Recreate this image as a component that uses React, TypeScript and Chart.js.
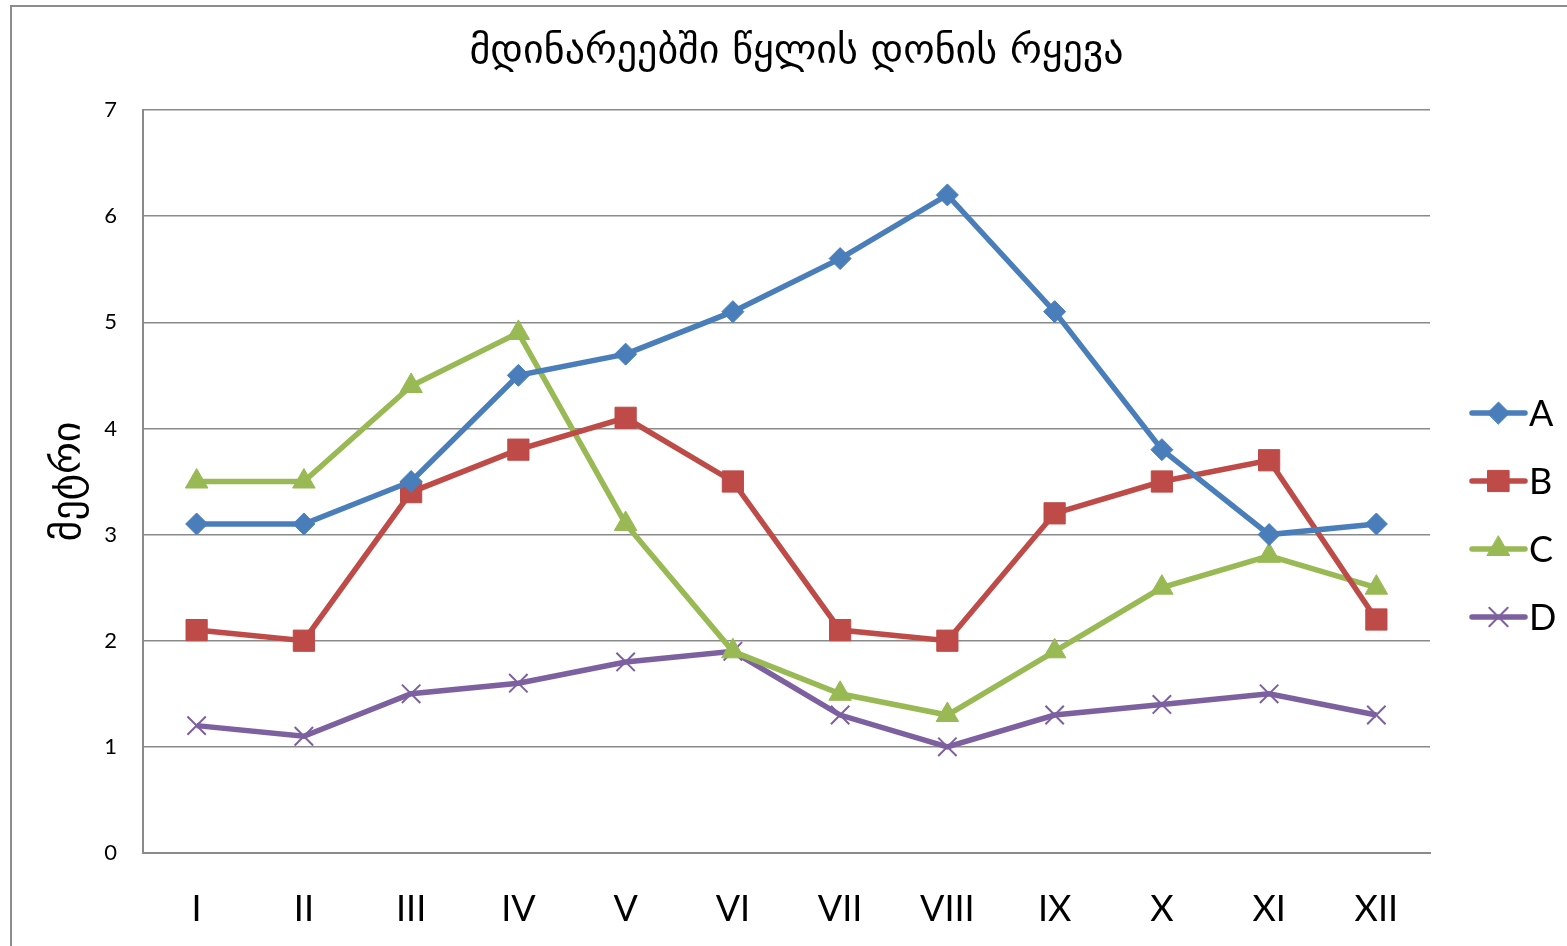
import React, { useEffect, useRef } from "react";
import { Chart, registerables } from "chart.js";
import { drawPoint } from "chart.js/helpers";

Chart.register(...registerables);

const chartTitle = "მდინარეებში წყლის დონის რყევა";
const yAxisTitle = "მეტრი";
const months = ["I", "II", "III", "IV", "V", "VI", "VII", "VIII", "IX", "X", "XI", "XII"];
const seriesNames = ["A", "B", "C", "D"];
const seriesA = [3.1, 3.1, 3.5, 4.5, 4.7, 5.1, 5.6, 6.2, 5.1, 3.8, 3.0, 3.1];
const seriesB = [2.1, 2.0, 3.4, 3.8, 4.1, 3.5, 2.1, 2.0, 3.2, 3.5, 3.7, 2.2];
const seriesC = [3.5, 3.5, 4.4, 4.9, 3.1, 1.9, 1.5, 1.3, 1.9, 2.5, 2.8, 2.5];
const seriesD = [1.2, 1.1, 1.5, 1.6, 1.8, 1.9, 1.3, 1.0, 1.3, 1.4, 1.5, 1.3];
const colors = ["#4A7EBB", "#BE4B48", "#98B954", "#7D60A0"];
const pointStyles = ["rectRot", "rect", "triangle", "crossRot"];
const pointRadii = [11, 15, 13, 13];

const LATIN = "Lato, 'Open Sans', sans-serif";
const GEO = "'DejaVu Sans', sans-serif";
const GRID = "#8a8a8a";

const frameTitleLegend = {
  id: "frameTitleLegend",
  afterDraw(chart: any) {
    const ctx = chart.ctx;
    const area = chart.chartArea;
    ctx.save();
    // outer chart frame
    ctx.strokeStyle = "#8c8c8c";
    ctx.lineWidth = 2;
    ctx.strokeRect(11, 6, chart.width + 20, chart.height + 20);
    // title
    ctx.fillStyle = "#000";
    ctx.font = `40px ${GEO}`;
    ctx.textAlign = "center";
    ctx.textBaseline = "middle";
    ctx.fillText(chartTitle, (area.left + area.right) / 2 + 10, 53);
    // legend
    const x0 = area.right + 40;
    const yStart = area.top + 303;
    const step = 68;
    chart.data.datasets.forEach((ds: any, i: number) => {
      const y = yStart + i * step;
      ctx.strokeStyle = ds.borderColor;
      ctx.fillStyle = ds.backgroundColor;
      ctx.lineWidth = 5.5;
      ctx.lineCap = "round";
      ctx.beginPath();
      ctx.moveTo(x0 + 2, y);
      ctx.lineTo(x0 + 55, y);
      ctx.stroke();
      ctx.lineWidth = ds.pointBorderWidth;
      drawPoint(
        ctx,
        {
          pointStyle: ds.pointStyle,
          radius: ds.pointRadius,
          borderWidth: ds.pointBorderWidth,
          rotation: 0,
        } as any,
        x0 + 28.5,
        y
      );
      ctx.fillStyle = "#000";
      ctx.font = `36px ${LATIN}`;
      ctx.textAlign = "left";
      ctx.textBaseline = "middle";
      ctx.fillText(ds.label, x0 + 59, y + 1);
    });
    ctx.restore();
  },
};

export default function App() {
  const ref = useRef<HTMLCanvasElement | null>(null);
  useEffect(() => {
    if (!ref.current) return;
    const seriesValues = [seriesA, seriesB, seriesC, seriesD];
    const chart = new Chart(ref.current, {
      type: "line",
      data: {
        labels: months,
        datasets: seriesNames.map((name, i) => ({
          label: name,
          data: seriesValues[i],
          borderColor: colors[i],
          backgroundColor: colors[i],
          borderWidth: 5.5,
          pointStyle: pointStyles[i] as any,
          pointRadius: pointRadii[i],
          pointHoverRadius: pointRadii[i],
          pointBorderWidth: i === 3 ? 2 : 1,
          pointBorderColor: colors[i],
          pointBackgroundColor: colors[i],
          tension: 0,
          fill: false,
        })),
      },
      options: {
        responsive: false,
        animation: false,
        layout: { padding: { left: 0, right: 137, top: 110, bottom: 0 } },
        plugins: {
          legend: { display: false },
          tooltip: { enabled: false },
          title: { display: false },
        },
        scales: {
          x: {
            offset: true,
            grid: { display: false, drawTicks: false },
            border: { display: true, color: GRID, width: 2 },
            ticks: {
              color: "#000",
              font: { family: LATIN, size: 36 },
              padding: 35,
              maxRotation: 0,
              autoSkip: false,
            },
            afterFit(scale: any) {
              scale.height = 93;
            },
          },
          y: {
            min: 0,
            max: 7,
            grid: { color: GRID, lineWidth: 1.5, drawTicks: false },
            border: { display: true, color: GRID, width: 2 },
            ticks: {
              stepSize: 1,
              color: "#000",
              font: { family: LATIN, size: 22 },
              padding: 26,
            },
            title: {
              display: true,
              text: yAxisTitle,
              color: "#000",
              font: { family: GEO, size: 40, weight: "normal" as any, lineHeight: 1.2 },
              padding: { top: 46, bottom: 0 },
            },
            afterFit(scale: any) {
              scale.width = 143;
            },
          },
        },
      },
      plugins: [frameTitleLegend],
    });
    return () => chart.destroy();
  }, []);
  return (
    <div style={{ position: "absolute", left: 0, top: 0, width: 1567, height: 946, background: "#fff" }}>
      <canvas ref={ref} width={1567} height={946} style={{ display: "block" }} />
    </div>
  );
}
